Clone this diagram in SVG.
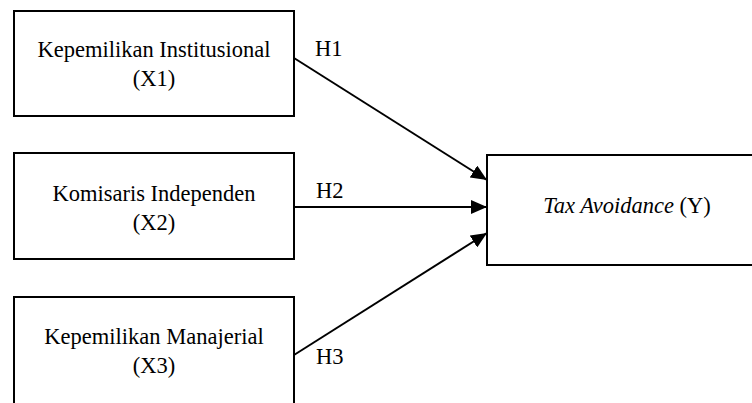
<svg xmlns="http://www.w3.org/2000/svg" width="752" height="403" viewBox="0 0 752 403">
<defs>
<marker id="arr" markerUnits="userSpaceOnUse" markerWidth="16" markerHeight="14" refX="16" refY="7" orient="auto">
<path d="M0,0 L16,7 L0,14 Z" fill="#000"/>
</marker>
<style>
.box{fill:#fff;stroke:#000;stroke-width:2}
.t{font-family:"Liberation Serif","Times New Roman",serif;font-size:22.5px;fill:#000;text-anchor:middle}
.h{font-family:"Liberation Serif","Times New Roman",serif;font-size:22.5px;fill:#000}
.c{stroke:#000;stroke-width:2;fill:none;marker-end:url(#arr)}
</style>
</defs>
<rect width="752" height="403" fill="#fff"/>
<g id="connectors">
<line class="c" x1="294" y1="58" x2="487" y2="180"/>
<line class="c" x1="294" y1="207" x2="487" y2="207"/>
<line class="c" x1="294" y1="355" x2="487" y2="233"/>
<text class="h" x="315" y="56">H1</text>
<text class="h" x="316" y="198">H2</text>
<text class="h" x="316" y="364">H3</text>
</g>
<g id="x1">
<rect class="box" x="14" y="11" width="280" height="105"/>
<text class="t" x="154" y="57">Kepemilikan Institusional</text>
<text class="t" x="154" y="86">(X1)</text>
</g>
<g id="x2">
<rect class="box" x="14" y="153" width="280" height="106"/>
<text class="t" x="154" y="201">Komisaris Independen</text>
<text class="t" x="154" y="230">(X2)</text>
</g>
<g id="x3">
<rect class="box" x="14" y="297" width="280" height="120"/>
<text class="t" x="154" y="344">Kepemilikan Manajerial</text>
<text class="t" x="154" y="373">(X3)</text>
</g>
<g id="y">
<rect class="box" x="487" y="155" width="280" height="110"/>
<text class="t" x="627" y="213"><tspan font-style="italic">Tax Avoidance</tspan> (Y)</text>
</g>
</svg>
